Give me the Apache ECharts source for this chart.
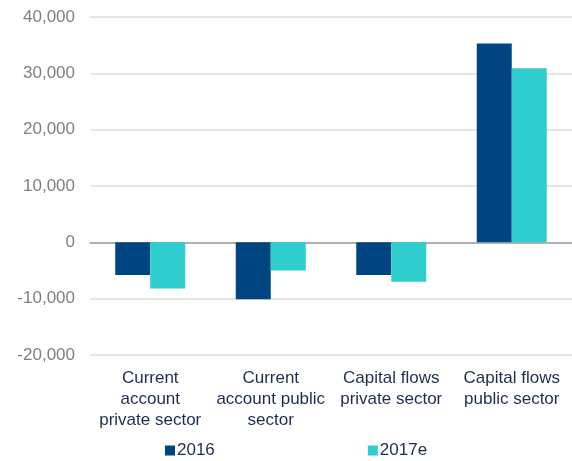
<!DOCTYPE html>
<html>
<head>
<meta charset="utf-8">
<script src="https://cdn.jsdelivr.net/npm/echarts@6/dist/echarts.min.js"></script>
<style>
  html, body { margin: 0; padding: 0; background: #fff; }
  #chart { width: 572px; height: 461px; }
</style>
</head>
<body>
<div id="chart"></div>
<script>
// categories along the x axis
const categories = [
  'Current\naccount\nprivate sector',
  'Current\naccount public\nsector',
  'Capital flows\nprivate sector',
  'Capital flows\npublic sector'
]
// series values
const values2016 = [-5800, -10100, -5800, 35300]
const values2017e = [-8200, -5000, -7000, 30900]

const chart = echarts.init(document.getElementById('chart'))
chart.setOption({
  animation: false,
  textStyle: { fontFamily: 'Liberation Sans, Arial, sans-serif' },
  grid: { left: 90, right: -5, top: 17, bottom: 106 },
  legend: {
    bottom: -3,
    left: 160,
    itemWidth: 10,
    itemHeight: 10,
    itemGap: 153,
    icon: 'rect',
    textStyle: { fontSize: 17, color: '#1f2d4d', padding: [0, 0, 0, -3] },
    data: ['2016', '2017e']
  },
  xAxis: {
    type: 'category',
    data: categories,
    axisTick: { show: false },
    axisLine: { onZero: true, lineStyle: { color: '#a0a0a0', width: 1.5 } },
    axisLabel: {
      interval: 0,
      fontSize: 17,
      color: '#1f2d4d',
      lineHeight: 21,
      margin: 13
    }
  },
  yAxis: {
    type: 'value',
    min: -20000,
    max: 40000,
    interval: 10000,
    axisLine: { show: false },
    axisTick: { show: false },
    splitLine: { lineStyle: { color: '#dcdcdc', width: 1.5 } },
    axisLabel: {
      fontSize: 17,
      color: '#7f7f7f',
      margin: 15,
      formatter: v => v.toLocaleString('en-US')
    }
  },
  series: [
    {
      name: '2016',
      type: 'bar',
      data: values2016,
      barWidth: 35,
      barGap: '0%',
      itemStyle: { color: '#004481' }
    },
    {
      name: '2017e',
      type: 'bar',
      data: values2017e,
      barWidth: 35,
      itemStyle: { color: '#2ecece' }
    }
  ]
})
</script>
</body>
</html>
